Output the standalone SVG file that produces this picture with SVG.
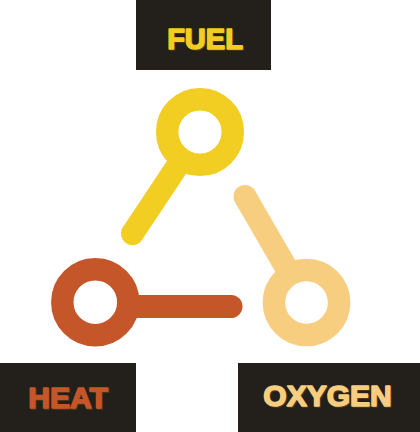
<svg xmlns="http://www.w3.org/2000/svg" width="420" height="432" viewBox="0 0 420 432">
<style>
.box{fill:#231f1b}
.lbl{font-family:"Liberation Sans",Arial,sans-serif;font-weight:bold;text-anchor:middle;stroke-width:1.6;stroke-linejoin:round}
.sh{fill:#4a3a14;stroke:#4a3a14}
.ring{fill:none;stroke-width:22.5}
.stick{fill:none;stroke-width:23;stroke-linecap:butt}
</style>
<rect width="420" height="432" fill="#ffffff"/>
<g id="connectors">
<line class="stick" x1="132.5" y1="233.5" x2="185.6" y2="153.7" stroke="#f2cd22"/>
<circle cx="132.5" cy="233.5" r="11.5" fill="#f2cd22"/>
<line class="stick" x1="231" y1="306.5" x2="121.3" y2="306.5" stroke="#c4562a"/>
<circle cx="231" cy="306.5" r="11.5" fill="#c4562a"/>
<line class="stick" x1="245" y1="196.5" x2="293.4" y2="280" stroke="#f7cd80"/>
<circle cx="245" cy="196.5" r="11.5" fill="#f7cd80"/>
</g>
<g id="fuel">
<circle class="ring" cx="200" cy="132" r="32.8" stroke="#f2cd22"/>
<rect class="box" x="136" y="0" width="135" height="70"/>
<text class="lbl sh" x="206" y="49.5" font-size="29">FUEL</text>
<text class="lbl" x="205" y="48.5" font-size="29" fill="#f2cd22" stroke="#f2cd22">FUEL</text>
</g>
<g id="heat">
<circle class="ring" cx="95.3" cy="302.2" r="33" stroke="#c4562a"/>
<rect class="box" x="0" y="363" width="136" height="69"/>
<text class="lbl sh" x="69" y="409" font-size="30">HEAT</text>
<text class="lbl" x="68" y="408" font-size="30" fill="#c4562a" stroke="#c4562a">HEAT</text>
</g>
<g id="oxygen">
<circle class="ring" cx="306.5" cy="302.5" r="32.6" stroke="#f7cd80"/>
<rect class="box" x="238" y="363" width="182" height="69"/>
<text class="lbl sh" x="328.5" y="407" font-size="30">OXYGEN</text>
<text class="lbl" x="327.5" y="406" font-size="30" fill="#f7cd80" stroke="#f7cd80">OXYGEN</text>
</g>
</svg>
